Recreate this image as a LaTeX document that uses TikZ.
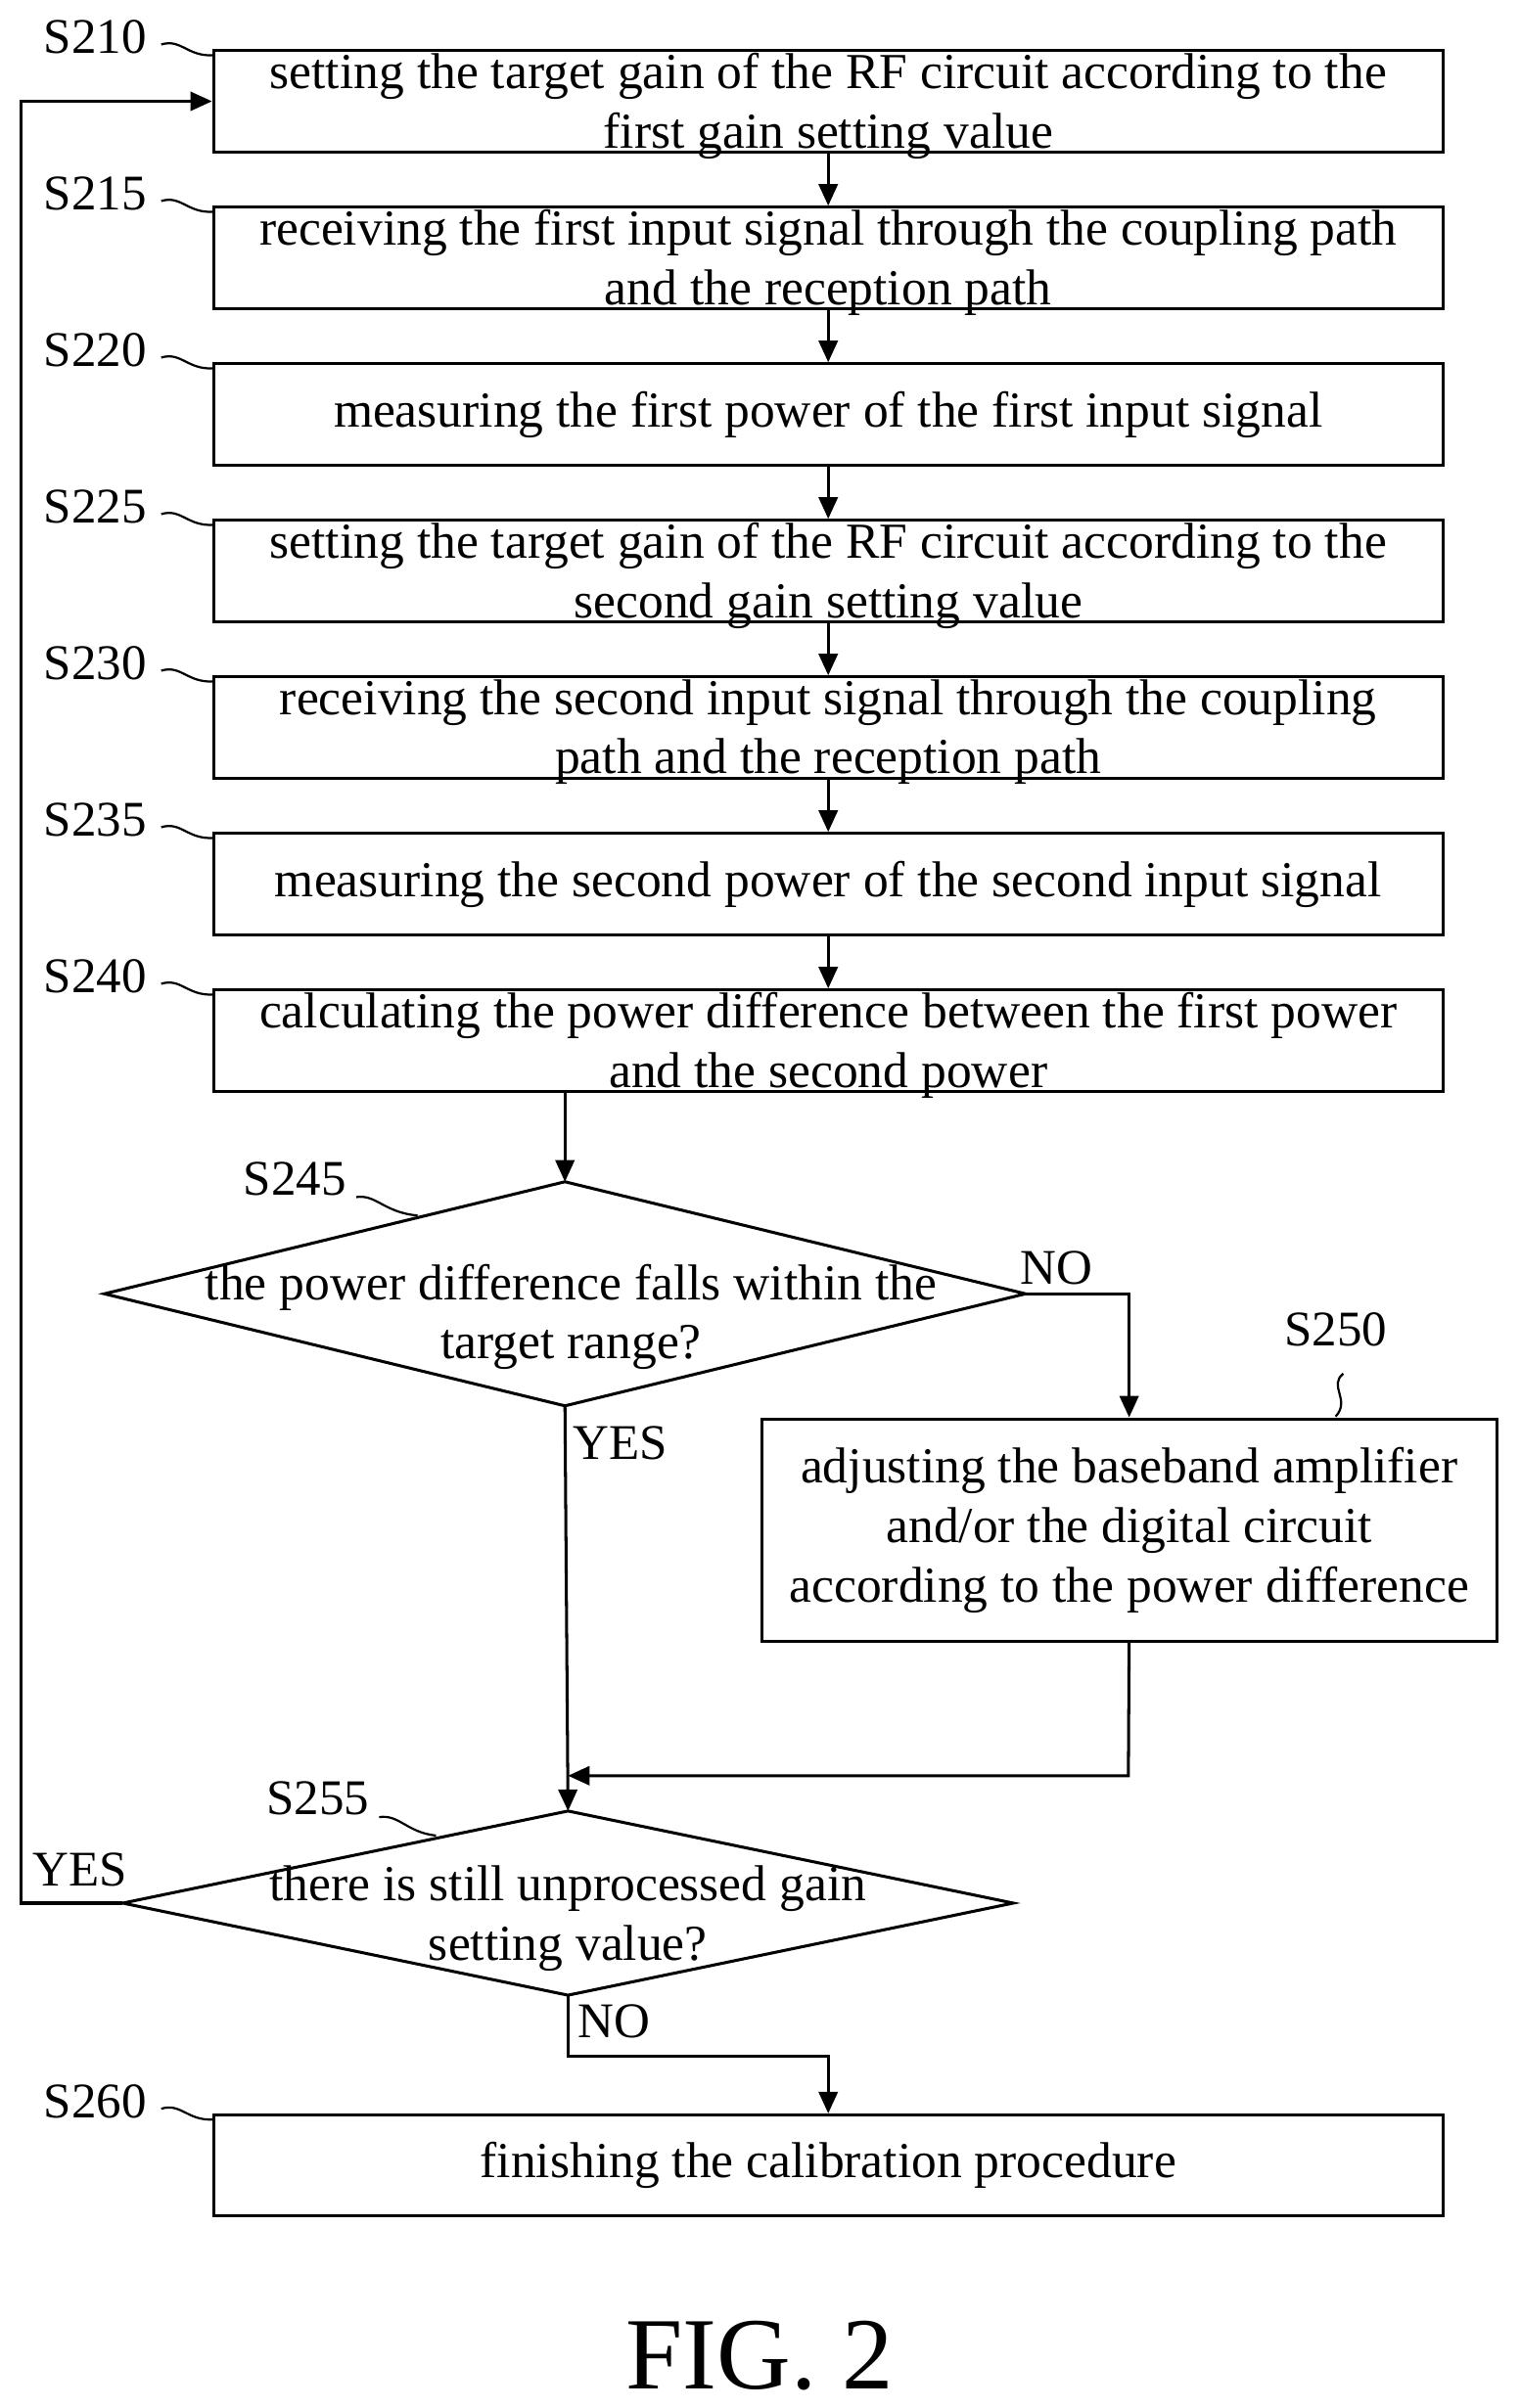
\documentclass[tikz,border=0pt]{standalone}
\usepackage{fontspec}
\setmainfont{Liberation Serif}
\usetikzlibrary{arrows.meta,shapes.geometric}
\begin{document}
\begin{tikzpicture}[x=0.02cm,y=-0.02cm,line width=1.1pt,
 box/.style={draw,rectangle,minimum width=16.02cm,minimum height=1.32cm,align=center,font=\fontsize{18.7}{22}\selectfont,inner sep=0pt},
 txt/.style={align=center,font=\fontsize{18.7}{22}\selectfont,inner sep=0pt},
 lab/.style={font=\fontsize{18.5}{21}\selectfont},
 arr/.style={-{Triangle[length=8pt,width=7pt]}}]
\useasboundingbox (0,0) rectangle (990,1569);
\node[box] (b210) at (539.5,66) {};
\node[txt] (x210) at (539.5,69) {setting the target gain of the RF circuit according to the\\first gain setting value};
\node[box] (b215) at (539.5,168) {};
\node[txt] (x215) at (539.5,171) {receiving the first input signal through the coupling path\\and the reception path};
\node[box] (b220) at (539.5,270) {measuring the first power of the first input signal};
\node[box] (b225) at (539.5,372) {};
\node[txt] (x225) at (539.5,375) {setting the target gain of the RF circuit according to the\\second gain setting value};
\node[box] (b230) at (539.5,474) {};
\node[txt] (x230) at (539.5,477) {receiving the second input signal through the coupling\\path and the reception path};
\node[box] (b235) at (539.5,576) {measuring the second power of the second input signal};
\node[box] (b240) at (539.5,678) {};
\node[txt] (x240) at (539.5,681) {calculating the power difference between the first power\\and the second power};
\draw (68,843) coordinate (d1l) -- (368,770) coordinate (d1t) -- (668,843) coordinate (d1r) -- (368,916) coordinate (d1b) -- cycle;
\node[txt] (t245) at (372,858) {the power difference falls within the\\target range?};
\node[box,minimum width=9.58cm,minimum height=2.9cm,font=\fontsize{18.7}{22}\selectfont] (b250) at (735.5,997) {adjusting the baseband amplifier\\and/or the digital circuit\\according to the power difference};
\draw (80,1240) coordinate (d2l) -- (370,1180) coordinate (d2t) -- (660,1240) coordinate (d2r) -- (370,1300) coordinate (d2b) -- cycle;
\node[txt] (t255) at (370,1250) {there is still unprocessed gain\\setting value?};
\node[box] (b260) at (539.5,1411) {finishing the calibration procedure};
\node[font=\fontsize{38}{42}\selectfont] (fig) at (495,1535) {FIG. 2};
\foreach \a/\b in {b210/b215,b215/b220,b220/b225,b225/b230,b230/b235,b235/b240}
  \draw[arr] (\a.south) -- (\b.north);
\draw[arr] (b240.south -| d1t) -- (d1t);
\draw[arr] (d1r) -| (b250.north);
\draw[arr] (d1b) -- (d2t);
\coordinate (m1) at (735,1157);
\draw[arr] (b250.south) -- (m1) -- (370,1157);
\draw[arr] (d2b) -- (370,1340) -| (b260.north);
\draw[arr] (d2l) -- (14,1240) -- (14,66) -- (b210.west);
\node[lab] (yes1) at (404,940) {YES};
\node[lab] (no1) at (688,826) {NO};
\node[lab] (yes2) at (52,1218) {YES};
\node[lab] (no2) at (400,1317) {NO};
\foreach \n/\y in {210/33,215/135,220/237,225/339,230/441,235/543,240/645,260/1378}{
  \node[lab] (s\n) at (62,\y-9) {S\n};
  \draw[line width=0.8pt] (105,\y-4) .. controls (118,\y-8) and (122,\y+4) .. (139,\y+3);
}
\node[lab] (s245) at (192,768) {S245};
\draw[line width=0.8pt] (232,780) .. controls (245,778) and (250,790) .. (272,792);
\node[lab] (s255) at (207,1172) {S255};
\draw[line width=0.8pt] (247,1184) .. controls (260,1182) and (265,1194) .. (284,1196);
\node[lab] (s250) at (870,866) {S250};
\draw[line width=0.8pt] (875,895) .. controls (865,903) and (880,912) .. (870,923);
\end{tikzpicture}
\end{document}
